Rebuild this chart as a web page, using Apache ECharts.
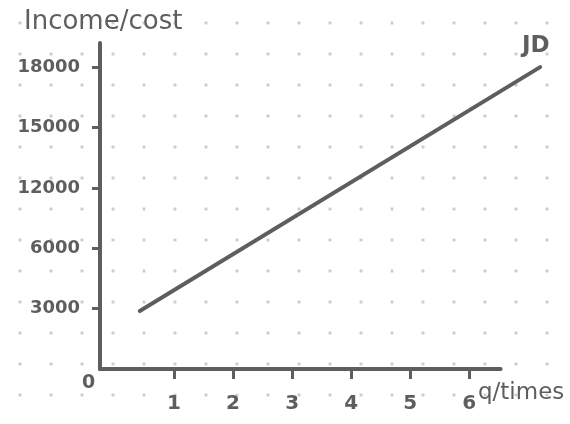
<!DOCTYPE html>
<html>
<head>
<meta charset="utf-8">
<script src="https://cdn.jsdelivr.net/npm/echarts@6/dist/echarts.min.js"></script>
<style>
  html, body { margin: 0; padding: 0; background: #fff; }
  /* dotted paper behind the chart */
  #main {
    width: 570px; height: 424px;
    background-image: radial-gradient(circle, #c8c8c8 1.3px, transparent 1.7px);
    background-size: 31px 31px;
    background-position: 4.5px 7.5px;
  }
</style>
</head>
<body>
<div id="main"></div>
<script>
  // x ticks (q / times)
  var xTicks = [1, 2, 3, 4, 5, 6];
  var xStart = -0.254, xEnd = 6.53;   // drawn extent of the x axis line
  // y ticks sit at equal steps, labelled as drawn
  var yTicks = [1, 2, 3, 4, 5];
  var yTickLabels = ['3000', '6000', '12000', '15000', '18000'];
  // JD line, two end points (in tick units)
  var jdX = [0.42, 7.2];
  var jdY = [0.96, 5.0];

  var ink = '#5e5e5e';
  var font = '"DejaVu Sans", "Noto Sans", sans-serif';

  var myChart = echarts.init(document.getElementById('main'));

  var option = {
    backgroundColor: 'transparent',
    animation: false,
    // grid runs past the x axis line so the JD line is not cut
    grid: { left: 100, right: 24, top: 43, bottom: 55, containLabel: false },
    xAxis: {
      type: 'value',
      min: xStart,
      max: 7.3,
      splitLine: { show: false },
      axisLine: { show: false },
      axisTick: { show: true, customValues: xTicks, length: 10, lineStyle: { color: ink, width: 3 } },
      axisLabel: {
        customValues: xTicks,
        margin: 25,
        color: ink,
        fontSize: 20,
        fontWeight: 'bold',
        fontFamily: font
      }
    },
    yAxis: {
      type: 'value',
      min: 0,
      max: 5.4,
      splitLine: { show: false },
      axisLine: { onZero: false, lineStyle: { color: ink, width: 4, cap: 'round' } },
      axisTick: { show: true, customValues: yTicks, length: 8, lineStyle: { color: ink, width: 3 } },
      axisLabel: {
        customValues: yTicks,
        margin: 20,
        color: ink,
        fontSize: 18,
        fontWeight: 'bold',
        fontFamily: font,
        formatter: function (v) {
          return yTickLabels[Math.round(v) - 1];
        }
      }
    },
    series: [{
      name: 'JD',
      type: 'line',
      symbol: 'none',
      lineStyle: { color: ink, width: 4, cap: 'round' },
      data: jdX.map(function (x, i) { return [x, jdY[i]]; }),
      // x axis line, shorter than the grid
      markLine: {
        silent: true,
        symbol: 'none',
        label: { show: false },
        lineStyle: { color: ink, width: 4, type: 'solid', cap: 'round' },
        data: [[{ coord: [xStart, 0] }, { coord: [xEnd, 0] }]]
      }
    }],
    graphic: [
      { type: 'text', left: 24, top: 9, style: { text: 'Income/cost', fill: ink, font: '26px ' + font } },
      { type: 'text', left: 82, top: 374, style: { text: '0', fill: ink, font: 'bold 19px ' + font } },
      { type: 'text', left: 478, top: 382, style: { text: 'q/times', fill: ink, font: '23px ' + font } },
      { type: 'text', left: 522, top: 35, style: { text: 'JD', fill: ink, font: 'bold 23px ' + font } }
    ]
  };

  myChart.setOption(option);
</script>
</body>
</html>
